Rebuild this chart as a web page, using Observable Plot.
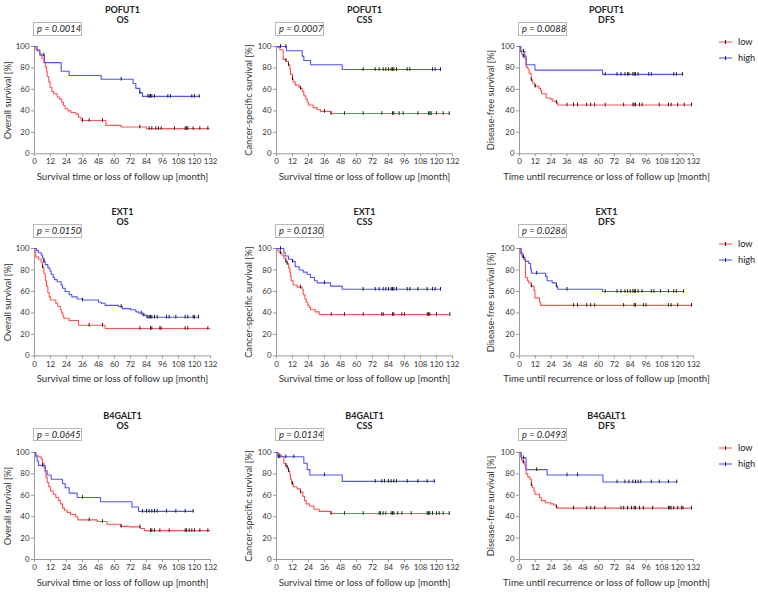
<!DOCTYPE html>
<html><head><meta charset="utf-8">
<script src="https://cdn.jsdelivr.net/npm/d3@7"></script>
<script src="https://cdn.jsdelivr.net/npm/@observablehq/plot@0.6"></script>
<style>
body{margin:0;background:#fff;font-family:Lato,"Open Sans",sans-serif;}
#root{position:relative;width:758px;height:592px;overflow:hidden;background:#fff;}
.panel{position:absolute;}
.pbox{position:absolute;box-sizing:border-box;border:1px solid #b8b8b8;background:#fff;font-style:italic;font-size:9.4px;color:#222;line-height:11.5px;padding-left:3px;white-space:nowrap;}
.legend{position:absolute;}
</style></head><body><div id="root"></div>
<script>
// ---------- labels ----------
const genes = ["POFUT1", "EXT1", "B4GALT1"];
const endpoints = ["OS", "CSS", "DFS"];
const yLabels = ["Overall survival [%]", "Cancer-specific survival [%]", "Disease-free survival [%]"];
const xLabels = ["Survival time or loss of follow up [month]", "Survival time or loss of follow up [month]", "Time until recurrence or loss of follow up [month]"];
const pValues = ["0.0014", "0.0007", "0.0088", "0.0150", "0.0130", "0.0286", "0.0645", "0.0134", "0.0493"];
const groups = ["low", "high"];
const xTicks = [0, 12, 24, 36, 48, 60, 72, 84, 96, 108, 120, 132];
const yTicks = [0, 20, 40, 60, 80, 100];

// ---------- KM steps [month, survival %] and censor times ----------
const POFUT1_OS_low = [[0,100],[1,97],[4,93],[5.5,89],[7,85],[8,81],[9,77],[9.5,72],[10.7,67],[11.7,62],[13,58],[14.4,56],[17,53],[18.7,51],[20.4,48],[21.7,45],[23,42],[25,40],[27.4,38.5],[31,37],[33,34],[35,31],[53.5,26.5],[65,25],[84,23.5],[131,23.5]];
const POFUT1_OS_low_cens = [36,41,51,79,86,88,91,93,95,105,113,114,115,119,124,130];
const POFUT1_OS_high = [[0,100],[2,96],[4,92],[7.5,85],[20,77],[26,73],[50,69.5],[74,65.5],[76,61],[79,57],[81,53.5],[123.5,53.5]];
const POFUT1_OS_high_cens = [7,65,79,85,86,87,88,90,100,102,118,120,123.5];

const POFUT1_CSS_low = [[0,100],[1,99],[2.5,97],[5,88],[7,87],[7.5,86],[9,83],[10,79],[10.5,74],[12,70],[12.5,67],[14,64],[17,62],[18,61],[19.3,58],[20.5,54],[22,51],[23,48],[24,45.5],[27.5,43],[30.5,41],[33,39.5],[40.5,37.5],[129.5,37.5]];
const POFUT1_CSS_low_cens = [7,9,12,18,36,41,51,65,79,87,88,92,95,106,114,115,116,120,125,129.5];
const POFUT1_CSS_high = [[0,100],[7.5,96],[19.3,91],[20.5,87],[25.5,83],[49.3,78.5],[123,78.5]];
const POFUT1_CSS_high_cens = [3,7,65,74,77,80,82,84,86,87,88,90,98,100,117,119,123];

const POFUT1_DFS_low = [[0,100],[1,95],[1.5,93],[2.5,91],[4,89],[5,81],[6.3,79],[7.3,75],[8.9,69],[10,66],[11.4,63],[14.7,61],[16,59],[16.7,56],[20.3,52],[23.6,51],[25.3,49],[27.9,48],[29,45.5],[130.5,45.5]];
const POFUT1_DFS_low_cens = [3,9,12,28,36,41,44,51,54,57,65,79,86,87,88,91,93,106,113,115,120,125,130.5];
const POFUT1_DFS_high = [[0,100],[1,95.5],[4,91],[5,83],[11.7,78],[63,74],[123.7,74]];
const POFUT1_DFS_high_cens = [3,65,74,77,80,82,83,86,87,88,90,98,100,117,119,123.7];

const EXT1_OS_low = [[0,100],[0.5,96],[1,92],[3,90],[5,87],[6,83],[7,77],[8,74],[8.2,70],[9,65],[10,59],[11,55],[12,52],[16,49],[17.5,46],[19.5,43],[20.3,40],[21.3,37],[22,35],[26,33],[33,28.5],[53,25.5],[131.5,25.5]];
const EXT1_OS_low_cens = [6,41,51,79,87,88,94,95,113,115,130];
const EXT1_OS_high = [[0,100],[1.5,98],[3,96],[5,94],[6,91],[7,88],[8,85],[10,82],[11.5,79],[12.5,76],[14,73],[15,71],[17,69],[20,66],[21,63],[23,60],[26,57],[28,55],[32,53],[36,52],[48,50],[50,49],[53,47],[63,46],[66,44],[72,43],[76,41],[78,40],[81,38],[84,36],[123,36]];
const EXT1_OS_high_cens = [7,36,65,80,82,85,86,87,88,90,92,99,101,106,113,115,119,120,123];

const EXT1_CSS_low = [[0,100],[1,98],[2,96],[4,94],[5.5,91],[7,88],[8,86],[9,82],[10,78],[10.5,74],[11,70],[12.5,66],[15.5,64],[19.3,62],[20,57],[21.3,53],[22.3,50],[23.5,47],[24.5,45],[25.5,43],[29,41],[32,38.5],[130,38.5]];
const EXT1_CSS_low_cens = [3,7,8,18,41,51,65,79,80,87,88,94,96,113,114,115,120,130];
const EXT1_CSS_high = [[0,100],[5.5,96],[6.5,93],[9,90],[12,88],[14,83],[17,80],[20,78],[23,76],[25.5,73],[28.5,70],[30.5,68],[40.5,65],[49.3,62],[123,62]];
const EXT1_CSS_high_cens = [3,12,36,65,74,77,80,82,84,86,87,88,90,98,100,106,113,117,119,123];

const EXT1_DFS_low = [[0,100],[1.3,96],[2.5,92],[4,89],[4.5,73],[6,70],[7,68],[9,65],[11,61],[11.7,54],[15.2,50],[16,47],[130.5,47]];
const EXT1_DFS_low_cens = [9,41,44,51,54,57,79,87,88,94,96,113,115,120,130.5];
const EXT1_DFS_high = [[0,100],[1,95],[2,92],[3.3,90],[4.5,88],[7,86],[8.4,81],[9,77],[19.8,74],[21,70],[24.8,68],[28,65],[29,62],[63,60],[124.5,60]];
const EXT1_DFS_high_cens = [3,13,28,36,65,74,77,80,82,84,86,87,88,90,93,100,102,107,113,117,119,124.5];

const B4GALT1_OS_low = [[0,100],[1,97],[3,96],[5,94],[6,90],[7,86],[8,82],[8.5,77],[9.5,72],[10.7,68],[12,64],[14,61],[16,58],[18,55],[19.5,52],[21,48],[22.5,46],[24.5,44],[27,42],[31,40],[32.5,37],[47,35.5],[54.5,33],[64.5,31],[71,30.5],[79.5,29],[82.5,27],[131.5,27]];
const B4GALT1_OS_low_cens = [41,51,65,79,87,88,90,94,101,113,114,116,118,120,124,130];
const B4GALT1_OS_high = [[0,100],[1,96],[2,92],[3,88],[8,83],[9.5,79],[12.5,75],[21,71],[23,67],[26,62],[32,58],[49.5,54],[73,49],[78,45],[119,45]];
const B4GALT1_OS_high_cens = [6,36,81,84,86,88,90,92,99,106,113,119];

const B4GALT1_CSS_low = [[0,100],[1,99],[2.5,97],[4,96],[5.5,90],[7,88],[8,86],[9,83],[10,79],[10.5,75],[11.3,71],[12.5,68],[15.5,66],[18,63],[19.8,59],[21,55],[22.3,52],[24.8,50],[28,47],[32,45],[40.5,43],[129.5,43]];
const B4GALT1_CSS_low_cens = [7,8,9,12,18,41,51,65,77,78,80,82,86,87,88,91,94,101,113,114,115,117,120,122,125,129.5];
const B4GALT1_CSS_high = [[0,100],[1,96],[20.5,90],[23,84],[25,79],[49.3,73],[118.3,73]];
const B4GALT1_CSS_high_cens = [1.5,2.5,7,13,36,74,79,81,84,86,88,90,98,106,113,118.3];

const B4GALT1_DFS_low = [[0,100],[1,96],[1.5,93],[2.5,91],[4,88],[4.5,85],[5,80],[6.3,77],[8,75],[9,70],[9.6,67],[11,64],[11.7,61],[15.2,58],[16.5,55],[19.8,53],[23.6,52],[26,51],[28,49],[29,48],[130.5,48]];
const B4GALT1_DFS_low_cens = [3,9,28,41,51,54,57,65,77,79,82,85,87,88,91,94,101,113,114,115,117,120,123,124,130.5];
const B4GALT1_DFS_high = [[0,100],[1.3,95],[5,84],[21,79],[63.3,72.5],[119.3,72.5]];
const B4GALT1_DFS_high_cens = [3,13,36,44,74,80,83,86,88,90,92,100,106,113,119.3];

const colors = ["#ff5252", "#5252ff"];

const curves = [
  [POFUT1_OS_low, POFUT1_OS_high], [POFUT1_CSS_low, POFUT1_CSS_high], [POFUT1_DFS_low, POFUT1_DFS_high],
  [EXT1_OS_low, EXT1_OS_high], [EXT1_CSS_low, EXT1_CSS_high], [EXT1_DFS_low, EXT1_DFS_high],
  [B4GALT1_OS_low, B4GALT1_OS_high], [B4GALT1_CSS_low, B4GALT1_CSS_high], [B4GALT1_DFS_low, B4GALT1_DFS_high]
];
const censors = [
  [POFUT1_OS_low_cens, POFUT1_OS_high_cens], [POFUT1_CSS_low_cens, POFUT1_CSS_high_cens], [POFUT1_DFS_low_cens, POFUT1_DFS_high_cens],
  [EXT1_OS_low_cens, EXT1_OS_high_cens], [EXT1_CSS_low_cens, EXT1_CSS_high_cens], [EXT1_DFS_low_cens, EXT1_DFS_high_cens],
  [B4GALT1_OS_low_cens, B4GALT1_OS_high_cens], [B4GALT1_CSS_low_cens, B4GALT1_CSS_high_cens], [B4GALT1_DFS_low_cens, B4GALT1_DFS_high_cens]
];

// ---------- layout ----------
const colLeft = [34, 276, 519];
const colWidth = [176, 176, 174];
const rowTop = [46.3, 248.3, 451.8];
const rowHeight = [107.3, 107.4, 107];
const yLabelOffset = [26, 27, 28];
const ML = 34, MT = 46, MR = 22, MB = 44;
const FONT = "Lato, 'Open Sans', sans-serif";

const root = document.getElementById("root");

function survAt(steps, t) {
  let s = steps[0][1];
  for (const [ti, si] of steps) { if (ti <= t) s = si; else break; }
  return s;
}

for (let r = 0; r < 3; r++) {
  for (let c = 0; c < 3; c++) {
    const k = r * 3 + c;
    const lineData = [];
    const censData = [];
    groups.forEach((g, gi) => {
      for (const [t, s] of curves[k][gi]) lineData.push({t, s, g});
      for (const t of censors[k][gi]) censData.push({t, s: survAt(curves[k][gi], t), g});
    });
    const w = ML + colWidth[c] + MR, h = MT + rowHeight[r] + MB;
    const chart = Plot.plot({
      width: w, height: h,
      marginLeft: ML, marginTop: MT, marginRight: MR, marginBottom: MB,
      style: {fontFamily: FONT, fontSize: "8px", color: "#333", background: "transparent", overflow: "visible"},
      x: {domain: [0, 132]},
      y: {domain: [0, 100]},
      color: {domain: groups, range: colors},
      marks: [
        Plot.axisX({ticks: xTicks, tickSize: 3, tickPadding: 2, label: null, stroke: "#9a9a9a", fill: "#333", fontSize: 7.9}),
        Plot.axisY({ticks: yTicks, tickSize: 3, tickPadding: 2, label: null, stroke: "#9a9a9a", fill: "#333", fontSize: 7.9}),
        Plot.ruleX([0], {stroke: "#9a9a9a"}),
        Plot.ruleY([0], {stroke: "#9a9a9a"}),
        Plot.line(lineData, {x: "t", y: "s", z: "g", stroke: "g", curve: "step-after", strokeWidth: 1.1}),
        Plot.ruleX(censData, {x: "t", y1: d => d.s - 1.7, y2: d => d.s + 1.7, stroke: "#222", strokeWidth: 1}),
        Plot.text([xLabels[c]], {frameAnchor: "bottom", dy: 26.5, fontSize: 9.6, fill: "#333"}),
        Plot.text([yLabels[c]], {frameAnchor: "left", dx: -yLabelOffset[c], rotate: -90, textAnchor: "middle", fontSize: 9.3, fill: "#333"}),
        Plot.text([genes[r]], {frameAnchor: "top", dy: -40, fontWeight: "bold", fontSize: 9, fill: "#222"}),
        Plot.text([endpoints[c]], {frameAnchor: "top", dy: -29.5, fontWeight: "bold", fontSize: 9, fill: "#222"})
      ]
    });
    const div = document.createElement("div");
    div.className = "panel";
    div.style.left = (colLeft[c] - ML) + "px";
    div.style.top = (rowTop[r] - MT) + "px";
    div.appendChild(chart);
    root.appendChild(div);

    const box = document.createElement("div");
    box.className = "pbox";
    box.style.left = (colLeft[c] - 1) + "px";
    box.style.top = (rowTop[r] - 24.3) + "px";
    box.style.width = "49px";
    box.style.height = "13.5px";
    box.textContent = "p = " + pValues[k];
    root.appendChild(box);
  }
  // legend for the row
  const leg = d3.create("svg").attr("class", "legend").attr("width", 50).attr("height", 30)
    .style("left", "712px").style("top", (rowTop[r] - 10) + "px")
    .style("font-family", FONT);
  groups.forEach((g, gi) => {
    const y = 6 + gi * 16;
    leg.append("line").attr("x1", 7).attr("x2", 20).attr("y1", y).attr("y2", y).attr("stroke", colors[gi]).attr("stroke-width", 1.1);
    leg.append("line").attr("x1", 13.5).attr("x2", 13.5).attr("y1", y - 2).attr("y2", y + 2).attr("stroke", "#222");
    leg.append("text").attr("x", 26).attr("y", y).attr("dy", "0.35em").attr("font-size", 9.2).attr("fill", "#222").text(g);
  });
  root.appendChild(leg.node());
}
</script></body></html>
